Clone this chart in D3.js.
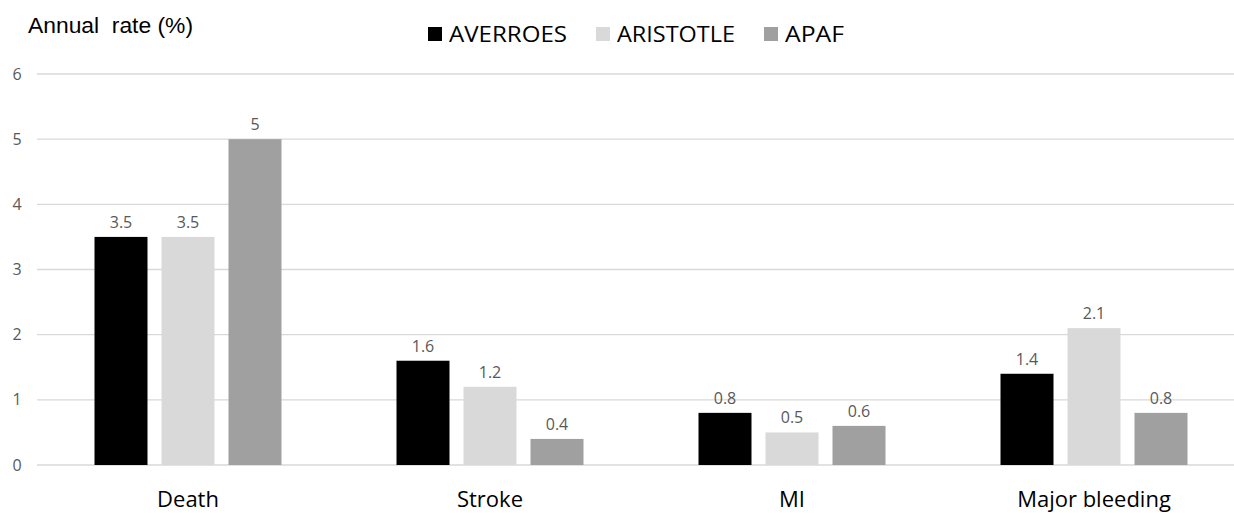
<!DOCTYPE html>
<html><head><meta charset="utf-8">
<script src="https://cdn.jsdelivr.net/npm/d3@7"></script>
<style>body{margin:0;background:#fff}svg{display:block}</style>
</head><body>
<svg id="c" width="1234" height="513"></svg>
<script>
const categories = ["Death", "Stroke", "MI", "Major bleeding"];
const seriesNames = ["AVERROES", "ARISTOTLE", "APAF"];
const averroes = [3.5, 1.6, 0.8, 1.4];
const aristotle = [3.5, 1.2, 0.5, 2.1];
const apaf = [5, 0.4, 0.6, 0.8];
const yTicks = [0, 1, 2, 3, 4, 5, 6];
const colors = ["#000000", "#d9d9d9", "#a0a0a0"];

const series = [averroes, aristotle, apaf];
const svg = d3.select("#c");
const x0 = d3.scaleBand().domain(categories).range([37, 1245]).paddingInner(0).paddingOuter(0);
const y = d3.scaleLinear().domain([0, 6]).range([465, 74]);
const barW = 53, gap = 14;
const x1 = d3.scaleBand().domain(seriesNames).range([0, 3 * barW + 2 * gap]).paddingInner(gap / (barW + gap)).paddingOuter(0);

// gridlines
svg.append("g").selectAll("line").data(yTicks).join("line")
  .attr("x1", 37).attr("x2", 1234)
  .attr("y1", d => y(d)).attr("y2", d => y(d))
  .attr("stroke", "#d9d9d9").attr("stroke-width", 1.3);

// y tick labels
svg.append("g").selectAll("text").data(yTicks).join("text")
  .attr("x", 17).attr("y", d => y(d)).attr("dy", "0.35em")
  .attr("text-anchor", "middle")
  .attr("font-family", "'Open Sans', sans-serif").attr("font-size", 16).attr("fill", "#595959")
  .text(d => d);

const groupW = 3 * barW + 2 * gap;
const g = svg.append("g");
categories.forEach((c, i) => {
  const gx = x0(c) + x0.bandwidth() / 2 - groupW / 2;
  series.forEach((s, j) => {
    const bx = gx + x1(seriesNames[j]);
    g.append("rect").attr("x", bx).attr("y", y(s[i]))
      .attr("width", x1.bandwidth()).attr("height", y(0) - y(s[i]))
      .attr("fill", colors[j]);
    g.append("text").attr("x", bx + x1.bandwidth() / 2).attr("y", y(s[i]) - 9)
      .attr("text-anchor", "middle")
      .attr("font-family", "'Open Sans', sans-serif").attr("font-size", 16).attr("fill", "#595959")
      .text(s[i]);
  });
  g.append("text").attr("x", x0(c) + x0.bandwidth() / 2).attr("y", 507)
    .attr("text-anchor", "middle")
    .attr("font-family", "'Open Sans', sans-serif").attr("font-size", 22).attr("fill", "#000")
    .text(c);
});

// title
svg.append("text").attr("x", 28).attr("y", 33)
  .attr("font-family", "'Liberation Sans', Arial, sans-serif").attr("font-size", 22).attr("fill", "#000")
  .attr("textLength", 165).attr("lengthAdjust", "spacingAndGlyphs")
  .text("Annual\u00a0 rate (%)");

// legend
const legX = [428, 596, 764];
const legW = [118, 118, 59];
seriesNames.forEach((n, j) => {
  svg.append("rect").attr("x", legX[j]).attr("y", 27).attr("width", 14).attr("height", 14).attr("fill", colors[j]);
  svg.append("text").attr("x", legX[j] + 21).attr("y", 42)
    .attr("font-family", "'Open Sans', sans-serif").attr("font-size", 22).attr("fill", "#000")
    .attr("textLength", legW[j]).attr("lengthAdjust", "spacingAndGlyphs")
    .text(n);
});
</script>
</body></html>
